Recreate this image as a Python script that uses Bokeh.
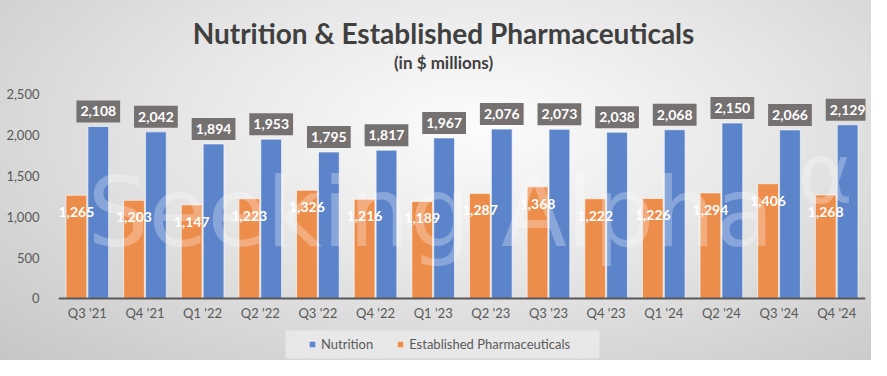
from bokeh.plotting import figure
from bokeh.models import (ColumnDataSource, FactorRange, Range1d, FixedTicker, Legend, LegendItem,
                          Label, NumeralTickFormatter, BoxAnnotation)
from bokeh.transform import dodge
from bokeh.core.properties import value
from bokeh.embed import file_html
from bokeh.resources import INLINE

quarters = ["Q3 '21", "Q4 '21", "Q1 '22", "Q2 '22", "Q3 '22", "Q4 '22", "Q1 '23",
            "Q2 '23", "Q3 '23", "Q4 '23", "Q1 '24", "Q2 '24", "Q3 '24", "Q4 '24"]
nutrition = [2108, 2042, 1894, 1953, 1795, 1817, 1967, 2076, 2073, 2038, 2068, 2150, 2066, 2129]
established = [1265, 1203, 1147, 1223, 1326, 1216, 1189, 1287, 1368, 1222, 1226, 1294, 1406, 1268]
y_ticks = [0, 500, 1000, 1500, 2000, 2500]

BLUE = "#5B84CB"
ORANGE = "#ED8D4B"
GREY_TXT = "#595959"
FONT = "Lato"

src = ColumnDataSource(dict(
    q=quarters,
    nut=nutrition,
    est=established,
    nut_lbl=[f"{v:,}" for v in nutrition],
    est_lbl=[f"{v:,}" for v in established],
))

p = figure(x_range=FactorRange(*quarters), y_range=Range1d(-760, 3652),
           width=871, height=360, output_backend="svg", toolbar_location=None,
           min_border_left=58, min_border_right=6, min_border_top=0, min_border_bottom=0)
p.styles = {"background-image": "radial-gradient(ellipse farthest-corner at 55% 35%, #fcfcfc 0%, #e6e6e6 45%, #c6c6c6 100%)"}
p.border_fill_color = None
p.background_fill_color = None
p.outline_line_color = None
p.xgrid.grid_line_color = None
p.ygrid.grid_line_color = None

# watermark
p.add_layout(Label(x=29, y=148, x_units="screen", y_units="screen", text="Seeking Alpha",
                   text_font="DejaVu Sans", text_font_size="96px", text_color="white",
                   text_alpha=0.28, text_baseline="alphabetic"))
p.add_layout(Label(x=739, y=187, x_units="screen", y_units="screen", text="α",
                   text_font="DejaVu Sans", text_font_size="84px", text_color="white",
                   text_alpha=0.28, text_baseline="alphabetic"))

r_est = p.vbar(x=dodge("q", -0.19, range=p.x_range), top="est", width=0.36, source=src,
               fill_color=ORANGE, line_color="white", line_alpha=0.6, line_width=1)
r_nut = p.vbar(x=dodge("q", 0.19, range=p.x_range), top="nut", width=0.36, source=src,
               fill_color=BLUE, line_color="white", line_alpha=0.6, line_width=1)

p.text(x=dodge("q", -0.19, range=p.x_range), y="est", text="est_lbl", source=src,
       y_offset=17, text_align="center", text_baseline="middle",
       text_font=value(FONT), text_font_style="bold", text_font_size="14px", text_color="white")
p.text(x=dodge("q", 0.19, range=p.x_range), y="nut", text="nut_lbl", source=src,
       y_offset=-15, text_align="center", text_baseline="middle",
       text_font=value(FONT), text_font_style="bold", text_font_size="14px", text_color="white",
       background_fill_color="#767171", padding=(4, 6))

# axes
p.xaxis.fixed_location = 0
p.xaxis.axis_line_color = "#595959"
p.xaxis.axis_line_width = 2
p.xaxis.major_tick_line_color = None
p.xaxis.minor_tick_line_color = None
p.xaxis.major_tick_out = 0
p.xaxis.major_tick_in = 0
p.xaxis.major_label_standoff = 7
p.xaxis.major_label_text_font = FONT
p.xaxis.major_label_text_font_size = "13px"
p.xaxis.major_label_text_color = GREY_TXT

p.yaxis.ticker = FixedTicker(ticks=y_ticks)
p.yaxis.formatter = NumeralTickFormatter(format="0,0")
p.yaxis.axis_line_color = None
p.yaxis.major_tick_line_color = None
p.yaxis.minor_tick_line_color = None
p.yaxis.major_label_standoff = 13
p.yaxis.major_label_text_font = FONT
p.yaxis.major_label_text_font_size = "13px"
p.yaxis.major_label_text_color = GREY_TXT

# titles
p.add_layout(Label(x=385, y=328, x_units="screen", y_units="screen",
                   text="Nutrition & Established Pharmaceuticals", text_align="center",
                   text_baseline="middle", text_font=FONT, text_font_style="bold",
                   text_font_size="28px", text_color="#404040"))
p.add_layout(Label(x=385, y=298, x_units="screen", y_units="screen",
                   text="(in $ millions)", text_align="center",
                   text_baseline="middle", text_font=FONT, text_font_style="bold",
                   text_font_size="17px", text_color="#404040"))

# legend box
p.add_layout(BoxAnnotation(left=227, right=541, bottom=2, top=30,
                           left_units="screen", right_units="screen",
                           bottom_units="screen", top_units="screen",
                           fill_color="#ececec", fill_alpha=0.75, line_color=None))

legend = Legend(items=[LegendItem(label="Nutrition", renderers=[r_nut]),
                       LegendItem(label="Established Pharmaceuticals", renderers=[r_est])],
                orientation="horizontal", location=(250, 6), margin=0,
                background_fill_alpha=0, border_line_color=None,
                padding=0, spacing=23, label_standoff=5, glyph_width=8, glyph_height=8,
                label_height=20, label_text_font=FONT, label_text_font_size="13px",
                label_text_color=GREY_TXT)
p.add_layout(legend, "center")

open("out.html", "w").write(file_html(p, INLINE))
